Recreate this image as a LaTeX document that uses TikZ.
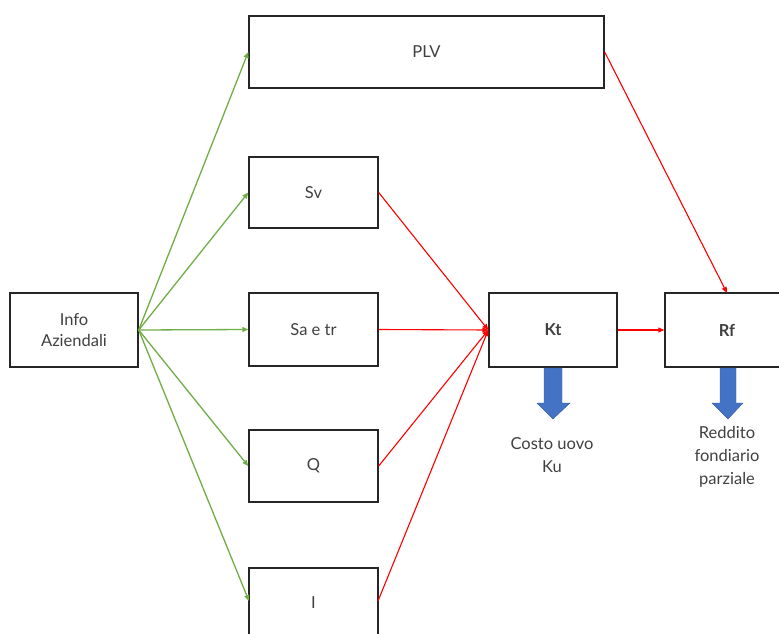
\documentclass[tikz,border=0pt]{standalone}
\usepackage{fontspec}
\setmainfont{Lato}
\usetikzlibrary{arrows.meta}
\definecolor{grn}{HTML}{70AD47}
\definecolor{blu}{HTML}{4472C4}
\definecolor{rd}{HTML}{FF0000}
\tikzset{
  box/.style={draw=black!85, line width=1.4pt, minimum width=129pt, minimum height=73pt, inner sep=0pt, align=center, font=\fontsize{16.5}{21}\selectfont, text=black!75},
  garr/.style={draw=grn, line width=1.3pt, -{Triangle[length=6pt,width=5pt]}},
  rarr/.style={draw=rd, line width=1.1pt, -{Triangle[length=6pt,width=5pt]}},
  bigarrow/.style={fill=blu, draw=blu!80!black, line width=0.4pt},
  lbl/.style={align=center, font=\fontsize{16.5}{23}\selectfont, text=black!75}
}
\begin{document}
\begin{tikzpicture}[x=1pt,y=-1pt]
\useasboundingbox (0,0) rectangle (779,634);
\node[box, minimum width=128pt, minimum height=74pt] (info) at (74,330) {Info\\Aziendali};
\node[box, minimum width=355pt, minimum height=72pt] (plv) at (426.5,52) {PLV};
\node[box, minimum height=71pt] (sv) at (313.5,192.5) {Sv};
\node[box] (sa) at (313.5,329.5) {Sa e tr};
\node[box, minimum height=72pt] (q) at (313.5,466) {Q};
\node[box, minimum height=80pt] (i) at (313.5,608) {};
\node[text=black!75, font=\fontsize{16.5}{21}\selectfont] (itxt) at (313.5,603) {I};
\node[box, minimum width=128pt, minimum height=74pt, font=\fontsize{16.5}{21}\selectfont\bfseries] (kt) at (553,330) {Kt};
\node[box, minimum width=140pt, minimum height=74pt] (rfbox) at (735,330) {};
\node[font=\fontsize{16.5}{21}\selectfont\bfseries, text=black!75] (rf) at (727,330) {Rf};
\coordinate (iw) at (249,601);
\coordinate (ie) at (378,601);
\coordinate (rftop) at (727,293);
\draw[garr] (info.east) -- (plv.west);
\draw[garr] (info.east) -- (sv.west);
\draw[garr] (info.east) -- (sa.west);
\draw[garr] (info.east) -- (q.west);
\draw[garr] (info.east) -- (iw);
\draw[rarr] (sv.east) -- (kt.west);
\draw[rarr] (sa.east) -- (kt.west);
\draw[rarr] (q.east) -- (kt.west);
\draw[rarr] (ie) -- (kt.west);
\draw[rarr] (kt.east) -- (rfbox.west);
\draw[rarr] (plv.east) -- (rftop);
% blue down arrows
\draw[bigarrow] (544,368) -- (562,368) -- (562,403) -- (570,403) -- (553,419) -- (537,403) -- (544,403) -- cycle;
\draw[bigarrow] (720,368) -- (736,368) -- (736,403) -- (743,403) -- (728,419) -- (712,403) -- (720,403) -- cycle;
\node[lbl] (ku) at (552,455) {Costo uovo\\Ku};
\node[lbl] (rfp) at (727,457) {Reddito\\fondiario\\parziale};
\end{tikzpicture}
\end{document}
